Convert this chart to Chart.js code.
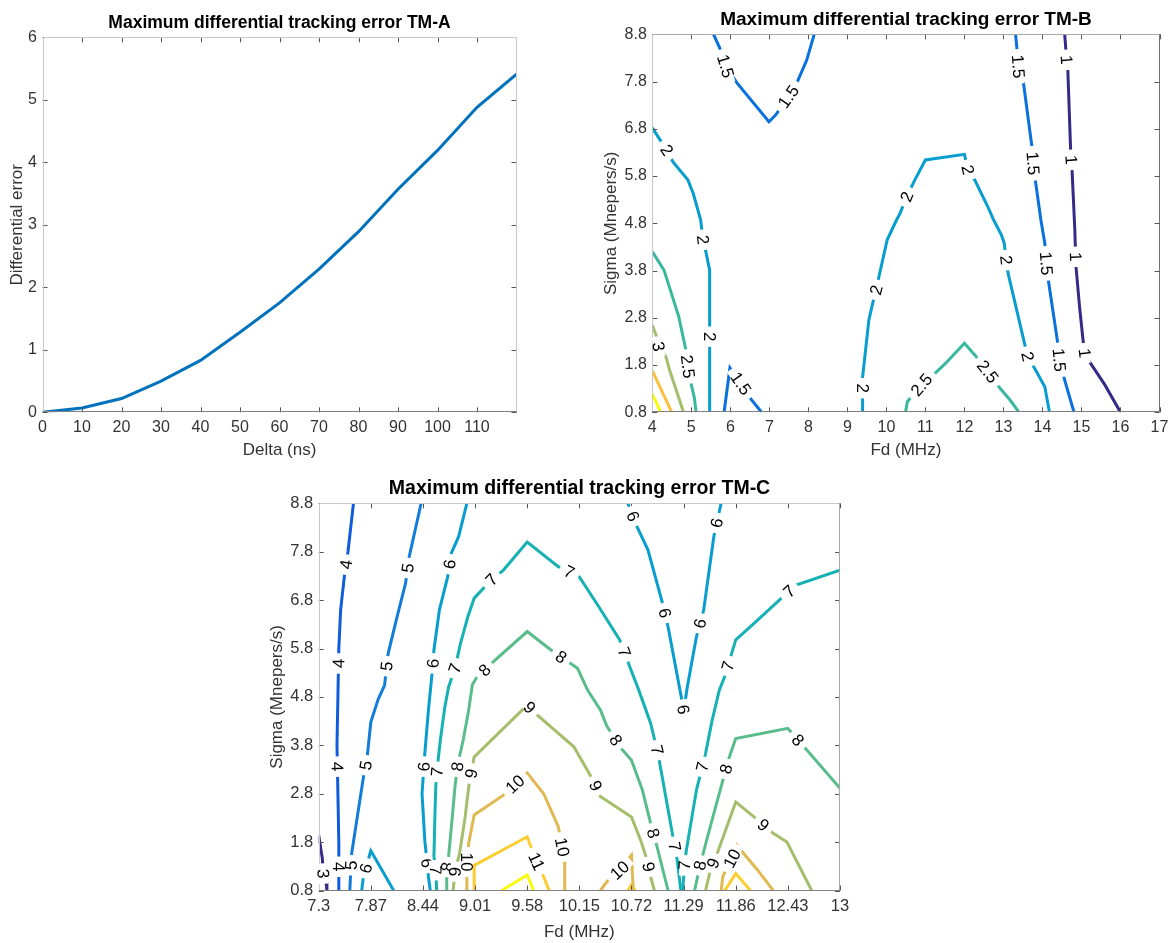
<!DOCTYPE html>
<html><head><meta charset="utf-8">
<script src="https://cdn.jsdelivr.net/npm/chart.js@4.4.1/dist/chart.umd.min.js"></script>
<style>
html,body{margin:0;padding:0;background:#fff;overflow:hidden;width:1173px;height:943px;}
canvas{position:absolute;}
</style></head><body>
<canvas id="cA" width="559" height="470" style="left:0px;top:0px"></canvas>
<canvas id="cB" width="612" height="470" style="left:600px;top:0px"></canvas>
<canvas id="cC" width="659" height="473" style="left:250px;top:470px"></canvas>
<script>
// ---------------- DATA ----------------
// TM-A
const deltaNs   = [0,10,20,30,40,50,60,70,80,90,100,110,120];
const diffError = [0,0.07,0.22,0.5,0.83,1.28,1.75,2.29,2.89,3.57,4.19,4.88,5.41];
const xTicksA = [0,10,20,30,40,50,60,70,80,90,100,110];
const xLabelsA = ['0','10','20','30','40','50','60','70','80','90','100','110'];
const yTicksA = [0,1,2,3,4,5,6];
const yLabelsA = ['0','1','2','3','4','5','6'];

// shared sigma axis
const sigmaTicks = [0.8,1.8,2.8,3.8,4.8,5.8,6.8,7.8,8.8];
const sigmaLabels = ['0.8','1.8','2.8','3.8','4.8','5.8','6.8','7.8','8.8'];

// TM-B
const fdTicksB = [4,5,6,7,8,9,10,11,12,13,14,15,16,17];
const fdLabelsB = ['4','5','6','7','8','9','10','11','12','13','14','15','16','17'];
const levelsB = [1,1.5,2,2.5,3,3.5,4];
const tmbC1   = [[14.57,8.8],[14.62,8.26],[14.65,8.05],[14.72,6.4],[14.76,5.9],[14.83,4.66],[14.85,4.1],[14.86,3.88],[14.95,3.04],[15.04,2.33],[15.08,2.05],[15.23,1.84],[15.6,1.38],[16.0,0.8]];
const tmbC15a = [[5.57,8.8],[5.76,8.45],[5.88,8.12],[6.18,7.76],[6.99,6.95],[7.16,7.09],[7.49,7.48],[7.72,7.8],[7.96,8.26],[8.15,8.8]];
const tmbC15b = [[13.31,8.8],[13.35,8.47],[13.38,8.12],[13.52,7.73],[13.73,6.42],[13.76,6.07],[13.84,5.58],[13.96,4.87],[14.06,4.38],[14.1,3.95],[14.15,3.6],[14.38,2.33],[14.43,1.91],[14.57,1.48],[14.81,0.8]];
const tmbC15c = [[5.84,0.8],[5.99,1.74],[6.27,1.41],[6.53,1.08],[6.8,0.8]];
const tmbC2a  = [[4.0,6.82],[4.37,6.35],[4.53,6.1],[4.91,5.72],[5.05,5.43],[5.24,4.87],[5.3,4.45],[5.38,4.17],[5.47,3.81],[5.47,2.4],[5.47,0.8]];
const tmbC2b  = [[9.39,0.8],[9.39,1.31],[9.39,1.55],[9.43,1.84],[9.55,2.75],[9.65,3.11],[9.74,3.39],[9.79,3.6],[10.02,4.45],[10.26,4.87],[10.35,5.01],[10.52,5.36],[10.73,5.72],[11.0,6.14],[12.0,6.26],[12.09,5.93],[12.27,5.71],[12.6,5.15],[12.75,4.87],[12.95,4.55],[13.02,4.38],[13.07,4.02],[13.12,3.74],[13.54,2.26],[13.62,1.98],[13.82,1.7],[14.06,1.34],[14.18,0.8]];
const tmbC25a = [[4.0,4.2],[4.3,3.81],[4.68,2.82],[4.86,2.12],[4.91,1.77],[5.01,1.35],[5.08,1.1],[5.12,0.8]];
const tmbC25b = [[10.49,0.8],[10.54,1.03],[10.9,1.38],[11.24,1.62],[11.52,1.84],[12.0,2.26],[12.27,2.01],[12.6,1.66],[12.88,1.34],[13.17,1.06],[13.4,0.8]];
const tmbC3   = [[4.0,2.65],[4.11,2.4],[4.16,2.19],[4.35,1.98],[4.44,1.7],[4.8,0.8]];
const tmbC35  = [[4.0,1.68],[4.5,0.8]];
const tmbC4   = [[4.0,1.19],[4.22,0.8]];
const contoursB = [[1,tmbC1],[1.5,tmbC15a],[1.5,tmbC15b],[1.5,tmbC15c],[2,tmbC2a],[2,tmbC2b],[2.5,tmbC25a],[2.5,tmbC25b],[3,tmbC3],[3.5,tmbC35],[4,tmbC4]];
const labelsB = [[1.5,5.85,8.12],[1.5,7.49,7.48],[1.5,13.38,8.12],[1.5,13.76,6.07],[1.5,14.1,3.95],[1.5,14.43,1.91],[1.5,6.27,1.41],
  [1,14.62,8.26],[1,14.71,6.14],[1,14.81,4.09],[1,15.06,2.05],
  [2,4.37,6.35],[2,5.3,4.45],[2,5.47,2.4],[2,9.39,1.31],[2,9.74,3.39],[2,10.52,5.36],[2,12.09,5.93],[2,13.07,4.02],[2,13.62,1.98],
  [2.5,4.91,1.77],[2.5,10.9,1.38],[2.5,12.6,1.66],[3,4.16,2.19]];

// TM-C
const fdTicksC = [7.3,7.87,8.44,9.01,9.58,10.15,10.72,11.29,11.86,12.43,13];
const fdLabelsC = ['7.3','7.87','8.44','9.01','9.58','10.15','10.72','11.29','11.86','12.43','13'];
const levelsC = [3,4,5,6,7,8,9,10,11,12];
const tmcL3   = [[7.3,1.94],[7.34,1.46],[7.35,1.15],[7.38,0.98],[7.39,0.8]];
const tmcL4   = [[7.68,8.8],[7.62,7.8],[7.58,7.28],[7.54,6.6],[7.52,5.8],[7.51,4.8],[7.5,3.8],[7.51,2.8],[7.52,1.8],[7.52,0.8]];
const tmcL5   = [[8.42,8.8],[8.29,7.7],[8.25,7.15],[8.15,6.4],[8.06,5.7],[8.02,5.04],[7.95,4.75],[7.87,4.28],[7.83,3.56],[7.79,3.15],[7.72,2.3],[7.66,1.56],[7.64,0.8]];
const tmcL6a  = [[8.92,8.8],[8.83,8.11],[8.75,7.77],[8.71,7.28],[8.62,6.6],[8.56,5.77],[8.54,5.29],[8.5,4.53],[8.46,3.63],[8.43,2.8],[8.46,1.84],[8.5,1.08],[8.52,0.8]];
const tmcL6b  = [[7.77,0.8],[7.79,1.1],[7.87,1.62],[8.12,0.8]];
const tmcL6c  = [[10.68,8.8],[10.78,8.32],[10.9,7.84],[11.05,6.8],[11.12,6.25],[11.27,4.74],[11.29,4.5],[11.33,5.0],[11.43,6.04],[11.51,6.6],[11.62,8.11],[11.7,8.8]];
const tmcL7a  = [[8.59,0.8],[8.58,1.22],[8.56,1.5],[8.57,2.3],[8.58,2.94],[8.6,3.4],[8.63,3.91],[8.68,4.6],[8.72,5.0],[8.79,5.39],[8.85,5.9],[8.93,6.45],[9.0,6.84],[9.19,7.22],[9.32,7.42],[9.58,8.0],[9.92,7.49],[10.15,7.28],[10.34,6.73],[10.59,5.98],[10.7,5.43],[10.8,4.94],[10.93,4.25],[11.0,3.7],[11.03,3.42],[11.16,2.05],[11.22,1.43],[11.26,0.8]];
const tmcL7b  = [[11.28,0.8],[11.3,1.32],[11.32,1.63],[11.43,2.87],[11.53,3.63],[11.6,4.3],[11.68,4.94],[11.74,5.22],[11.86,5.98],[12.06,6.32],[12.36,6.84],[12.52,7.11],[13.0,7.42]];
const tmcL8a  = [[8.7,0.8],[8.7,1.2],[8.72,1.5],[8.76,2.3],[8.79,2.94],[8.82,3.4],[8.88,3.91],[8.94,4.53],[8.98,5.05],[9.02,5.18],[9.21,5.53],[9.58,6.15],[9.84,5.77],[10.13,5.39],[10.24,4.94],[10.38,4.53],[10.45,4.2],[10.61,3.73],[10.72,3.49],[10.84,2.87],[10.93,2.18],[11.0,1.7],[11.12,0.8]];
const tmcL8b  = [[11.41,0.8],[11.47,1.32],[11.55,1.9],[11.64,2.53],[11.74,3.22],[11.79,3.56],[11.86,3.94],[12.43,4.15],[12.54,3.91],[12.64,3.7],[13.0,2.91]];
const tmcL9a  = [[8.77,0.8],[8.79,1.19],[8.84,1.56],[8.9,2.3],[8.94,2.94],[9.0,3.56],[9.58,4.63],[9.71,4.39],[10.09,3.77],[10.3,3.08],[10.38,2.74],[10.72,2.32],[10.82,1.84],[10.89,1.43],[10.93,1.08],[10.97,0.8]];
const tmcL9b  = [[11.53,0.8],[11.58,1.2],[11.67,1.63],[11.86,2.63],[12.06,2.32],[12.27,1.98],[12.42,1.8],[12.69,0.8]];
const tmcL10a = [[8.92,0.8],[8.92,1.39],[8.94,1.77],[9.0,2.36],[9.32,2.77],[9.58,3.23],[9.76,2.8],[9.92,2.12],[9.99,1.43],[9.99,0.8]];
const tmcL10b = [[10.38,0.8],[10.45,0.98],[10.59,1.22],[10.72,1.53],[10.74,0.8]];
const tmcL10c = [[11.7,0.8],[11.72,1.1],[11.82,1.46],[11.87,1.74],[12.1,1.22],[12.27,0.8]];
const tmcL11a = [[9.0,0.8],[9.0,1.32],[9.58,1.91],[9.67,1.45],[9.76,1.08],[9.82,0.8]];
const tmcL11b = [[10.68,0.8],[10.72,0.92],[10.76,0.8]];
const tmcL11c = [[11.74,0.8],[11.86,1.15],[12.02,0.8]];
const tmcL12  = [[9.3,0.8],[9.58,1.12],[9.65,0.8]];
const contoursC = [[3,tmcL3],[4,tmcL4],[5,tmcL5],[6,tmcL6a],[6,tmcL6b],[6,tmcL6c],[7,tmcL7a],[7,tmcL7b],[8,tmcL8a],[8,tmcL8b],
  [9,tmcL9a],[9,tmcL9b],[10,tmcL10a],[10,tmcL10b],[10,tmcL10c],[11,tmcL11a],[11,tmcL11b],[11,tmcL11c],[12,tmcL12]];
const labelsC = [[3,7.35,1.15],
  [4,7.61,7.53],[4,7.52,5.49],[4,7.5,3.36],[4,7.52,1.29],
  [5,8.29,7.46],[5,8.06,5.43],[5,7.81,3.39],[5,7.66,1.32],
  [6,8.77,7.53],[6,8.56,5.49],[6,8.44,3.36],[6,8.46,1.36],[6,7.83,1.25],[6,10.72,8.52],[6,11.08,6.53],[6,11.26,4.53],[6,11.47,6.32],[6,11.66,8.39],
  [7,9.19,7.22],[7,10.05,7.42],[7,10.66,5.74],[7,11.0,3.7],[7,11.18,1.7],[7,8.79,5.39],[7,8.6,3.25],[7,8.58,1.22],[7,11.3,1.32],[7,11.49,3.36],[7,11.79,5.43],[7,12.43,7.01],
  [8,9.13,5.32],[8,9.94,5.6],[8,10.55,3.91],[8,10.95,1.98],[8,8.81,3.36],[8,8.69,1.29],[8,11.47,1.32],[8,11.74,3.32],[8,12.54,3.91],
  [9,9.63,4.63],[9,8.96,3.22],[9,8.79,1.19],[9,10.3,2.94],[9,10.91,1.29],[9,11.62,1.36],[9,12.16,2.15],
  [10,8.92,1.39],[10,9.44,3.01],[10,9.97,1.7],[10,10.59,1.22],[10,11.82,1.46],
  [11,9.67,1.39]];

// ---------------- STYLE ----------------
const FONT = '"Liberation Sans", Arial, Helvetica, sans-serif';
Chart.defaults.font.family = FONT;
const parulaB = ['#352a87','#0871de','#079dcf','#38b99e','#a5be6b','#fdbe3d','#f9fb0e'];
const parulaC = ['#352a87','#0f5cdd','#127dd8','#079dcf','#15b1b4','#59bd8b','#a5be6b','#e1b952','#fccd2e','#f9fb0e'];

const matlabAxes = {
  id: 'matlabAxes',
  afterDatasetsDraw(chart, args, o) {
    const {ctx, chartArea: a, scales} = chart;
    ctx.save();
    ctx.lineWidth = 1;
    ctx.strokeStyle = o.tickColor || '#555';
    const L = o.tickLen || 5;
    ctx.beginPath();
    scales.x.ticks.forEach(t => {
      const p = Math.round(scales.x.getPixelForValue(t.value)) + 0.5;
      ctx.moveTo(p, a.bottom); ctx.lineTo(p, a.bottom - L);
      ctx.moveTo(p, a.top); ctx.lineTo(p, a.top + L);
    });
    scales.y.ticks.forEach(t => {
      const p = Math.round(scales.y.getPixelForValue(t.value)) + 0.5;
      ctx.moveTo(a.left, p); ctx.lineTo(a.left + L, p);
      ctx.moveTo(a.right, p); ctx.lineTo(a.right - L, p);
    });
    ctx.stroke();
    const l = Math.round(a.left) + 0.5, r = Math.round(a.right) - 0.5, t = Math.round(a.top) + 0.5, b = Math.round(a.bottom) - 0.5;
    const side = (c, x1, y1, x2, y2) => { ctx.strokeStyle = c; ctx.beginPath(); ctx.moveTo(x1, y1); ctx.lineTo(x2, y2); ctx.stroke(); };
    side(o.frameTop, l, t, r, t);
    side(o.frameRight, r, t, r, b);
    side(o.frameLeft, l, t, l, b);
    side(o.frameBottom, l - 0.5, b, r + 0.5, b);
    ctx.restore();
  }
};

const contourLabels = {
  id: 'contourLabels',
  afterDatasetsDraw(chart, args, o) {
    if (!o.labels) return;
    const {ctx, scales: {x, y}} = chart;
    ctx.save();
    ctx.font = (o.size || 15) + 'px ' + FONT;
    for (const [lev, lx, ly] of o.labels) {
      const px = x.getPixelForValue(lx), py = y.getPixelForValue(ly);
      let best = Infinity, ang = 0, qx = px, qy = py;
      chart.data.datasets.forEach(ds => {
        if (ds.level !== lev) return;
        const pts = ds.data.map(p => [x.getPixelForValue(p.x), y.getPixelForValue(p.y)]);
        for (let i = 0; i < pts.length - 1; i++) {
          const [x1, y1] = pts[i], [x2, y2] = pts[i + 1];
          const dx = x2 - x1, dy = y2 - y1, len2 = dx * dx + dy * dy || 1;
          let s = ((px - x1) * dx + (py - y1) * dy) / len2;
          s = Math.max(0, Math.min(1, s));
          const cx = x1 + s * dx, cy = y1 + s * dy;
          const d = Math.hypot(px - cx, py - cy);
          if (d < best) { best = d; ang = Math.atan2(dy, dx); qx = cx; qy = cy; }
        }
      });
      if (ang > Math.PI / 2 + 1e-6) ang -= Math.PI;
      if (ang <= -Math.PI / 2 + 1e-6) ang += Math.PI;
      const text = String(lev);
      const w = ctx.measureText(text).width;
      ctx.save();
      ctx.translate(qx, qy);
      ctx.rotate(ang);
      ctx.fillStyle = '#fff';
      ctx.fillRect(-w / 2 - 5.5, -5, w + 11, 10);
      ctx.fillStyle = '#000';
      ctx.textAlign = 'center';
      ctx.textBaseline = 'middle';
      ctx.fillText(text, 0, 1);
      ctx.restore();
    }
    ctx.restore();
  }
};

function buildChart(id, c) {
  return new Chart(document.getElementById(id), {
    type: 'scatter',
    data: { datasets: c.datasets },
    options: {
      responsive: false, animation: false, events: [],
      layout: { padding: 0 },
      plugins: {
        legend: { display: false }, tooltip: { enabled: false },
        title: { display: true, text: c.title, color: '#000', font: { size: c.titleSize, weight: 'bold' },
                 padding: { top: c.titlePadTop, bottom: c.titlePadBottom } },
        matlabAxes: c.frame,
        contourLabels: { labels: c.labels, size: c.labelSize }
      },
      scales: {
        x: { type: 'linear', position: 'bottom', min: c.xMin, max: c.xMax,
             afterBuildTicks: s => { s.ticks = c.xTicks.map(v => ({ value: v })); },
             afterFit: s => { s.height = c.xAxisH; },
             grid: { display: false, drawTicks: false }, border: { display: false },
             ticks: { autoSkip: false, maxRotation: 0, minRotation: 0, padding: 6, color: '#333', font: { size: c.tickSize },
                      callback: function (v, i) { return c.xLabels[i]; } },
             title: { display: true, text: c.xTitle, color: '#333', font: { size: c.axisTitleSize }, padding: { top: 0, bottom: c.xTitlePad } } },
        y: { type: 'linear', position: 'left', min: c.yMin, max: c.yMax,
             afterBuildTicks: s => { s.ticks = c.yTicks.map(v => ({ value: v })); },
             afterFit: s => { s.width = c.yAxisW; },
             grid: { display: false, drawTicks: false }, border: { display: false },
             ticks: { autoSkip: false, padding: 5.5, color: '#333', font: { size: c.tickSize },
                      callback: function (v, i) { return c.yLabels[i]; } },
             title: { display: true, text: c.yTitle, color: '#333', font: { size: c.axisTitleSize }, padding: { top: c.yTitlePad, bottom: 0 } } },
        yRightSpace: { type: 'linear', position: 'right', min: c.yMin, max: c.yMax, display: true,
             afterFit: s => { s.width = c.padRight; },
             grid: { display: false, drawTicks: false }, border: { display: false },
             ticks: { display: false } }
      }
    },
    plugins: [matlabAxes, contourLabels]
  });
}

function contourDatasets(list, levels, palette) {
  return list.map(([lev, pts]) => ({
    level: lev,
    data: pts.map(([x, y]) => ({ x, y })),
    showLine: true, pointRadius: 0, borderWidth: 3,
    borderColor: palette[levels.indexOf(lev)], tension: 0, fill: false
  }));
}

// TM-A
buildChart('cA', {
  datasets: [{ data: deltaNs.map((d, i) => ({ x: d, y: diffError[i] })), showLine: true, pointRadius: 0,
               borderWidth: 3, borderColor: '#0072bd', tension: 0, fill: false }],
  padRight: 42.5, yAxisW: 42.5, xAxisH: 57.7,
  title: 'Maximum differential tracking error TM-A', titleSize: 17.5, titlePadTop: 12.5, titlePadBottom: 3.8,
  xMin: 0, xMax: 120, xTicks: xTicksA, xLabels: xLabelsA, xTitle: 'Delta (ns)', xTitlePad: 9.8,
  yMin: 0, yMax: 6, yTicks: yTicksA, yLabels: yLabelsA, yTitle: 'Differential error', yTitlePad: 6.8,
  tickSize: 16, axisTitleSize: 17,
  frame: { tickColor: '#555', tickLen: 5, frameTop: '#c8c8c8', frameRight: '#c8c8c8', frameLeft: '#c8c8c8', frameBottom: '#808080' },
  labels: null, labelSize: 17
});

// TM-B
buildChart('cB', {
  datasets: contourDatasets(contoursB, levelsB, parulaB),
  padRight: 52.5, yAxisW: 52.3, xAxisH: 57.7,
  title: 'Maximum differential tracking error TM-B', titleSize: 19, titlePadTop: 8.1, titlePadBottom: 3.4,
  xMin: 4, xMax: 17, xTicks: fdTicksB, xLabels: fdLabelsB, xTitle: 'Fd (MHz)', xTitlePad: 9.8,
  yMin: 0.8, yMax: 8.8, yTicks: sigmaTicks, yLabels: sigmaLabels, yTitle: 'Sigma (Mnepers/s)', yTitlePad: 0.8,
  tickSize: 16, axisTitleSize: 17,
  frame: { tickColor: '#555', tickLen: 5, frameTop: '#a8a8a8', frameRight: '#707070', frameLeft: '#c8c8c8', frameBottom: '#808080' },
  labels: labelsB, labelSize: 17
});

// TM-C
buildChart('cC', {
  datasets: contourDatasets(contoursC, levelsC, parulaC),
  padRight: 69, yAxisW: 68.7, xAxisH: 52.5,
  title: 'Maximum differential tracking error TM-C', titleSize: 19.5, titlePadTop: 6.6, titlePadBottom: 3.3,
  xMin: 7.3, xMax: 13, xTicks: fdTicksC, xLabels: fdLabelsC, xTitle: 'Fd (MHz)', xTitlePad: 0,
  yMin: 0.8, yMax: 8.8, yTicks: sigmaTicks, yLabels: sigmaLabels, yTitle: 'Sigma (Mnepers/s)', yTitlePad: 16.8,
  tickSize: 16.5, axisTitleSize: 17,
  frame: { tickColor: '#555', tickLen: 5, frameTop: '#c8c8c8', frameRight: '#a8a8a8', frameLeft: '#c8c8c8', frameBottom: '#808080' },
  labels: labelsC, labelSize: 17
});
</script>
</body></html>
